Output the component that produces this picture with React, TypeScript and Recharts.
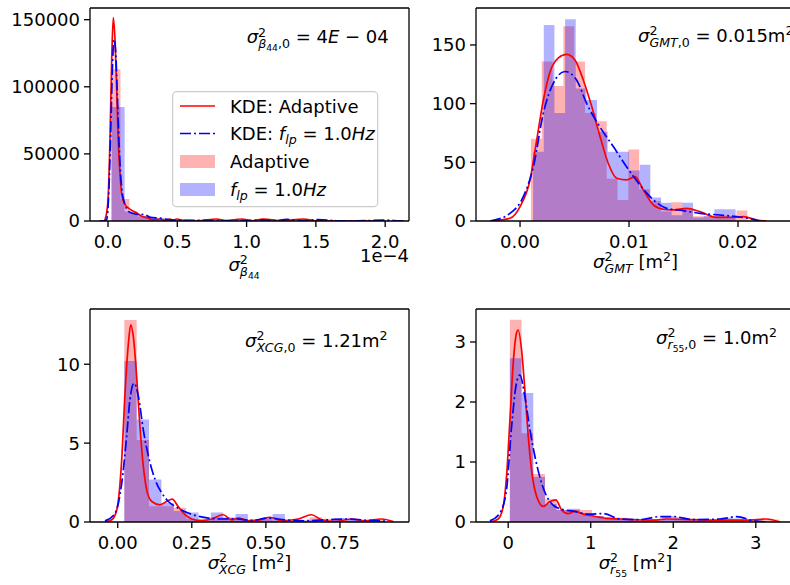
import React from 'react';
import { ComposedChart, Area, Line, XAxis, YAxis } from 'recharts';

const FONT = "'DejaVu Sans', sans-serif";
const FS = 18;
const RED = '#ff0000';
const BLUE = '#0000ff';

// ---------- Panel 1: sigma^2 beta44 (x in units of 1e-4) ----------
const betaTicksX = [0, 0.5, 1.0, 1.5, 2.0];
const betaTicksY = [0, 50000, 100000, 150000];
const betaRedBinStart = 0.025;
const betaRedBinWidth = 0.065;
const betaRedHist = [113000, 16400, 6000, 3000, 1500, 800, 1000, 1200, 600, 300, 200, 300, 600, 400, 300, 500, 300, 200, 300, 200, 100, 500];
const betaBlueBinStart = 0.025;
const betaBlueBinWidth = 0.095;
const betaBlueHist = [84850, 7000, 4000, 2000, 900, 600, 400, 300, 300, 200, 200, 300, 300, 400, 300, 500, 300, 200, 150, 150, 100, 100, 200];
const betaRedKdeX = [-0.06, -0.029, -0.022, -0.01, 0.002, 0.014, 0.027, 0.038, 0.051, 0.063, 0.074, 0.087, 0.099, 0.123, 0.146, 0.183, 0.207, 0.243, 0.28, 0.32, 0.375, 0.41, 0.447, 0.47, 0.496, 0.55, 0.65, 0.784, 0.85, 0.965, 1.04, 1.12, 1.25, 1.41, 1.5, 1.7, 2.0];
const betaRedKdeY = [0, 0, 1000, 6000, 19600, 59500, 121600, 151500, 134000, 96800, 59500, 34500, 19600, 12200, 9700, 7200, 6000, 3500, 2500, 1000, 1500, 500, 1500, 500, 1500, 300, 200, 1500, 200, 1500, 200, 1500, 200, 1500, 100, 50, 0];
const betaBlueKdeX = [-0.06, -0.03, -0.01, 0.007, 0.019, 0.031, 0.043, 0.055, 0.067, 0.079, 0.091, 0.103, 0.123, 0.146, 0.195, 0.267, 0.303, 0.387, 0.45, 0.55, 0.7, 0.85, 1.0, 1.12, 1.2, 1.29, 1.4, 1.52, 1.65, 1.8, 2.01, 2.1, 2.15];
const betaBlueKdeY = [0, 0, 1000, 24600, 64400, 111700, 135300, 126600, 94300, 59500, 34500, 20900, 12200, 7200, 5200, 4700, 2700, 2000, 800, 500, 400, 300, 300, 800, 300, 1200, 300, 1000, 200, 200, 600, 100, 0];

// ---------- Panel 2: sigma^2 GMT ----------
const gmtTicksX = [0, 0.01, 0.02];
const gmtTicksY = [0, 50, 100, 150];
const gmtRedBinStart = 0.001;
const gmtRedBinWidth = 0.000993;
const gmtRedHist = [70, 136, 115, 166, 136, 92, 85, 36, 18, 61, 27, 17, 8, 16, 10, 4, 4, 5, 4, 9];
const gmtBlueBinStart = 0.0012;
const gmtBlueBinWidth = 0.000978;
const gmtBlueHist = [59, 167, 92, 172, 113, 103, 76, 59, 59, 43, 48, 20, 15.6, 5, 15.6, 3, 4, 10, 10];
const gmtRedKdeX = [-0.00275, -0.00092, 0, 0.00092, 0.00153, 0.00214, 0.00275, 0.00352, 0.00428, 0.00505, 0.00581, 0.00658, 0.00734, 0.0081, 0.00887, 0.00979, 0.01055, 0.01131, 0.01223, 0.01315, 0.01406, 0.01529, 0.01651, 0.01804, 0.01957, 0.02049, 0.02171, 0.02263];
const gmtRedKdeY = [0, 2.3, 12.2, 35, 69, 103, 127, 139, 142, 137, 120, 97.5, 72, 49, 36.4, 35, 37.8, 26.5, 13.7, 10, 9.4, 10.8, 8, 3.1, 3.1, 3.7, 0.85, 0];
const gmtBlueKdeX = [-0.00275, -0.00092, 0.0003, 0.00122, 0.00214, 0.00306, 0.00413, 0.0052, 0.00612, 0.00734, 0.00856, 0.00979, 0.011, 0.01223, 0.01346, 0.01498, 0.01651, 0.01835, 0.01988, 0.0211, 0.022];
const gmtBlueKdeY = [0, 6.5, 20.7, 46, 92, 117.5, 127.4, 120, 100, 80, 63.4, 46, 30.7, 18, 10.8, 8.8, 6.5, 5.1, 3.7, 2, 0];

// ---------- Panel 3: sigma^2 XCG ----------
const xcgTicksX = [0, 0.25, 0.5, 0.75];
const xcgTicksY = [0, 5, 10];
const xcgRedBinStart = 0.0223;
const xcgRedBinWidth = 0.0417;
const xcgRedHist = [12.8, 5.2, 1.0, 1.0, 0.9, 0.2, 0.1, 0.3, 0.3, 0.15, 0.15, 0.2, 0.1, 0.05, 0.1, 0.3, 0.2, 0.05, 0.1, 0.1, 0.15];
const xcgBlueBinStart = 0.0223;
const xcgBlueBinWidth = 0.0417;
const xcgBlueHist = [10.2, 6.5, 2.7, 1.2, 0.7, 0.6, 0.2, 0.6, 0.2, 0.5, 0.15, 0.25, 0.5, 0.1, 0.1, 0.15, 0.05, 0.25, 0.15, 0.1, 0.05];
const xcgRedKdeX = [-0.043, -0.02, -0.003, 0.0135, 0.0246, 0.036, 0.0439, 0.053, 0.064, 0.075, 0.0866, 0.0978, 0.115, 0.1427, 0.165, 0.184, 0.204, 0.227, 0.25, 0.283, 0.317, 0.356, 0.385, 0.407, 0.441, 0.48, 0.514, 0.553, 0.609, 0.654, 0.688, 0.733, 0.79, 0.834, 0.891, 0.93];
const xcgRedKdeY = [0, 0.14, 0.78, 3.94, 8.16, 11.3, 12.5, 11.7, 9.2, 6.05, 3.5, 2.04, 1.3, 1.09, 1.3, 1.45, 0.98, 0.46, 0.19, 0.08, 0.19, 0.46, 0.14, 0.25, 0.08, 0.14, 0.3, 0.08, 0.19, 0.46, 0.14, 0.03, 0.19, 0.08, 0.19, 0.03];
const xcgBlueKdeX = [-0.043, -0.009, 0.0135, 0.03, 0.041, 0.055, 0.07, 0.0866, 0.104, 0.126, 0.149, 0.171, 0.204, 0.238, 0.272, 0.306, 0.351, 0.396, 0.452, 0.508, 0.564, 0.632, 0.711, 0.778, 0.846, 0.913];
const xcgBlueKdeY = [0.07, 0.55, 2.45, 5.4, 7.7, 8.8, 7.95, 5.8, 4.15, 2.7, 1.83, 1.3, 0.88, 0.57, 0.36, 0.25, 0.19, 0.2, 0.1, 0.25, 0.14, 0.08, 0.14, 0.19, 0.1, 0.05];

// ---------- Panel 4: sigma^2 r55 ----------
const r55TicksX = [0, 1, 2, 3];
const r55TicksY = [0, 1, 2, 3];
const r55RedBinStart = 0.02;
const r55RedBinWidth = 0.142;
const r55RedHist = [3.37, 1.48, 0.8, 0.38, 0.2, 0.2, 0.2, 0.1, 0.05, 0.07, 0.05, 0.03, 0.02, 0.03, 0.05, 0.04, 0.03, 0.03, 0.02, 0.02, 0.02, 0.03, 0.04];
const r55BlueBinStart = 0.02;
const r55BlueBinWidth = 0.142;
const r55BlueHist = [2.73, 2.15, 0.75, 0.3, 0.2, 0.22, 0.12, 0.1, 0.08, 0.05, 0.03, 0.02, 0.05, 0.1, 0.08, 0.05, 0.04, 0.03, 0.07, 0.06];
const r55RedKdeX = [-0.222, -0.121, -0.06, -0.02, 0.021, 0.061, 0.101, 0.121, 0.162, 0.202, 0.243, 0.283, 0.344, 0.425, 0.505, 0.578, 0.647, 0.727, 0.808, 0.889, 1.03, 1.193, 1.354, 1.515, 1.757, 1.92, 2.24, 2.566, 2.89, 3.13, 3.29];
const r55RedKdeY = [0, 0.05, 0.26, 0.76, 1.7, 2.65, 3.15, 3.2, 2.87, 2.2, 1.43, 0.87, 0.43, 0.26, 0.34, 0.37, 0.2, 0.14, 0.18, 0.14, 0.1, 0.06, 0.05, 0.04, 0.03, 0.05, 0.04, 0.03, 0.03, 0.05, 0];
const r55BlueKdeX = [-0.222, -0.1, -0.02, 0.041, 0.101, 0.141, 0.202, 0.263, 0.323, 0.404, 0.505, 0.626, 0.788, 0.99, 1.152, 1.354, 1.596, 1.838, 2.0, 2.24, 2.566, 2.77, 2.97, 3.13];
const r55BlueKdeY = [0.02, 0.15, 0.54, 1.59, 2.32, 2.45, 2.09, 1.54, 1.1, 0.65, 0.34, 0.22, 0.18, 0.13, 0.14, 0.05, 0.04, 0.09, 0.09, 0.04, 0.05, 0.09, 0.02, 0];

type Row = { x: number; y: number };
const histRows = (start: number, width: number, heights: number[]): Row[] => {
  const rows = heights.map((h, i) => ({ x: start + i * width, y: h }));
  rows.push({ x: start + heights.length * width, y: 0 });
  return rows;
};
const kdeRows = (xs: number[], ys: number[]): Row[] => xs.map((x, i) => ({ x, y: ys[i] }));

type PanelProps = {
  left: number;
  top: number;
  xDomain: [number, number];
  yDomain: [number, number];
  xTicks: number[];
  yTicks: number[];
  xFmt: (v: number) => string;
  redHist: Row[];
  blueHist: Row[];
  redKde: Row[];
  blueKde: Row[];
};

const axisLine = { stroke: '#000', strokeWidth: 1.3 };
const tickStyle = { fill: '#000', fontSize: FS, fontFamily: FONT };
const DASH = '11 3 2 3';

function Panel(p: PanelProps) {
  return (
    <div style={{ position: 'absolute', left: p.left, top: p.top }}>
      <ComposedChart width={419} height={291} margin={{ top: 7, right: 9, bottom: 0, left: 0 }}>
        <XAxis
          xAxisId="b"
          type="number"
          dataKey="x"
          domain={p.xDomain}
          ticks={p.xTicks}
          interval={0}
          tickFormatter={p.xFmt}
          allowDataOverflow
          height={70}
          tickSize={6}
          tickMargin={8}
          axisLine={axisLine}
          tickLine={axisLine}
          tick={tickStyle}
        />
        <XAxis
          xAxisId="t"
          orientation="top"
          type="number"
          dataKey="x"
          domain={p.xDomain}
          allowDataOverflow
          height={1}
          tick={false}
          tickLine={false}
          axisLine={axisLine}
        />
        <YAxis
          yAxisId="l"
          type="number"
          domain={p.yDomain}
          ticks={p.yTicks}
          interval={0}
          allowDataOverflow
          width={90}
          tickSize={6}
          tickMargin={4}
          axisLine={axisLine}
          tickLine={axisLine}
          tick={tickStyle}
        />
        <YAxis
          yAxisId="r"
          orientation="right"
          type="number"
          domain={p.yDomain}
          allowDataOverflow
          width={1}
          tick={false}
          tickLine={false}
          axisLine={axisLine}
        />
        <Area xAxisId="b" yAxisId="l" data={p.redHist} dataKey="y" type="stepAfter" fill={RED} fillOpacity={0.3} stroke="none" isAnimationActive={false} />
        <Line xAxisId="b" yAxisId="l" data={p.redKde} dataKey="y" type="monotone" stroke={RED} strokeWidth={1.7} dot={false} activeDot={false} isAnimationActive={false} />
        <Area xAxisId="t" yAxisId="r" data={p.blueHist} dataKey="y" type="stepAfter" fill={BLUE} fillOpacity={0.3} stroke="none" isAnimationActive={false} />
        <Line xAxisId="t" yAxisId="r" data={p.blueKde} dataKey="y" type="monotone" stroke={BLUE} strokeWidth={1.7} strokeDasharray={DASH} dot={false} activeDot={false} isAnimationActive={false} />
      </ComposedChart>
    </div>
  );
}

const S = 12.6; // script size
const SS = 9.2; // second-level script size
const SUP = -6.8;
const SUB = 5;
const TWO_W = 8;

function Overlay() {
  const t = { fontFamily: FONT, fontSize: FS, fill: '#000' } as const;
  return (
    <svg width={790} height={585} style={{ position: 'absolute', left: 0, top: 0, pointerEvents: 'none' }}>
      {/* annotations */}
      <text x={246.7} y={43.3} {...t}>
        <tspan fontStyle="italic">σ</tspan>
        <tspan fontSize={S} dy={SUP}>2</tspan>
        <tspan fontSize={S} dx={-TWO_W} dy={SUB - SUP} fontStyle="italic">β</tspan>
        <tspan fontSize={SS} dy={2.5}>44</tspan>
        <tspan fontSize={S} dy={-2.5}>,0</tspan>
        <tspan dy={-SUB}> = 4</tspan>
        <tspan fontStyle="italic">E</tspan>
        <tspan> − 04</tspan>
      </text>
      <text x={638} y={42} {...t}>
        <tspan fontStyle="italic">σ</tspan>
        <tspan fontSize={S} dy={SUP}>2</tspan>
        <tspan fontSize={S} dx={-TWO_W} dy={SUB - SUP} fontStyle="italic">GMT</tspan>
        <tspan fontSize={S}>,0</tspan>
        <tspan dy={-SUB}> = 0.015m</tspan>
        <tspan fontSize={S} dy={SUP}>2</tspan>
      </text>
      <text x={245} y={346.5} {...t}>
        <tspan fontStyle="italic">σ</tspan>
        <tspan fontSize={S} dy={SUP}>2</tspan>
        <tspan fontSize={S} dx={-TWO_W} dy={SUB - SUP} fontStyle="italic">XCG</tspan>
        <tspan fontSize={S}>,0</tspan>
        <tspan dy={-SUB}> = 1.21m</tspan>
        <tspan fontSize={S} dy={SUP}>2</tspan>
      </text>
      <text x={656} y={344} {...t}>
        <tspan fontStyle="italic">σ</tspan>
        <tspan fontSize={S} dy={SUP}>2</tspan>
        <tspan fontSize={S} dx={-TWO_W} dy={SUB - SUP} fontStyle="italic">r</tspan>
        <tspan fontSize={SS} dy={2.5}>55</tspan>
        <tspan fontSize={S} dy={-2.5}>,0</tspan>
        <tspan dy={-SUB}> = 1.0m</tspan>
        <tspan fontSize={S} dy={SUP}>2</tspan>
      </text>

      {/* x-axis labels */}
      <text x={244} y={271} textAnchor="middle" {...t}>
        <tspan fontStyle="italic">σ</tspan>
        <tspan fontSize={S} dy={SUP}>2</tspan>
        <tspan fontSize={S} dx={-TWO_W} dy={SUB - SUP} fontStyle="italic">β</tspan>
        <tspan fontSize={SS} dy={2.5}>44</tspan>
      </text>
      <text x={409} y={262} textAnchor="end" {...t}>1e−4</text>
      <text x={635.5} y={268} textAnchor="middle" {...t}>
        <tspan fontStyle="italic">σ</tspan>
        <tspan fontSize={S} dy={SUP}>2</tspan>
        <tspan fontSize={S} dx={-TWO_W} dy={SUB - SUP} fontStyle="italic">GMT</tspan>
        <tspan dy={-SUB}> [m</tspan>
        <tspan fontSize={S} dy={SUP}>2</tspan>
        <tspan dy={-SUP}>]</tspan>
      </text>
      <text x={249.5} y={569} textAnchor="middle" {...t}>
        <tspan fontStyle="italic">σ</tspan>
        <tspan fontSize={S} dy={SUP}>2</tspan>
        <tspan fontSize={S} dx={-TWO_W} dy={SUB - SUP} fontStyle="italic">XCG</tspan>
        <tspan dy={-SUB}> [m</tspan>
        <tspan fontSize={S} dy={SUP}>2</tspan>
        <tspan dy={-SUP}>]</tspan>
      </text>
      <text x={635.5} y={569} textAnchor="middle" {...t}>
        <tspan fontStyle="italic">σ</tspan>
        <tspan fontSize={S} dy={SUP}>2</tspan>
        <tspan fontSize={S} dx={-TWO_W} dy={SUB - SUP} fontStyle="italic">r</tspan>
        <tspan fontSize={SS} dy={2.5}>55</tspan>
        <tspan dy={-2.5 - SUB}> [m</tspan>
        <tspan fontSize={S} dy={SUP}>2</tspan>
        <tspan dy={-SUP}>]</tspan>
      </text>

      {/* legend */}
      <rect x={172.7} y={91.7} width={205} height={115} rx={4} ry={4} fill="#fff" fillOpacity={0.8} stroke="#cccccc" strokeWidth={1.2} />
      <line x1={180} x2={215} y1={106} y2={106} stroke={RED} strokeWidth={1.7} />
      <line x1={180} x2={215} y1={133.5} y2={133.5} stroke={BLUE} strokeWidth={1.7} strokeDasharray={DASH} />
      <rect x={180} y={155} width={35} height={13} fill={RED} fillOpacity={0.3} />
      <rect x={180} y={183} width={35} height={13} fill={BLUE} fillOpacity={0.3} />
      <text x={230} y={112.5} {...t}>KDE: Adaptive</text>
      <text x={230} y={140} {...t}>
        <tspan>KDE: </tspan>
        <tspan fontStyle="italic">f</tspan>
        <tspan fontSize={S} dy={4} fontStyle="italic">lp</tspan>
        <tspan dy={-4}> = 1.0</tspan>
        <tspan fontStyle="italic">Hz</tspan>
      </text>
      <text x={230} y={168} {...t}>Adaptive</text>
      <text x={230} y={196} {...t}>
        <tspan fontStyle="italic">f</tspan>
        <tspan fontSize={S} dy={4} fontStyle="italic">lp</tspan>
        <tspan dy={-4}> = 1.0</tspan>
        <tspan fontStyle="italic">Hz</tspan>
      </text>
    </svg>
  );
}

export default function App() {
  return (
    <div style={{ position: 'absolute', left: 0, top: 0, width: 790, height: 585, overflow: 'hidden', background: '#fff' }}>
      <Panel
        left={0}
        top={0}
        xDomain={[-0.13, 2.172]}
        yDomain={[0, 158700]}
        xTicks={betaTicksX}
        yTicks={betaTicksY}
        xFmt={(v) => v.toFixed(1)}
        redHist={histRows(betaRedBinStart, betaRedBinWidth, betaRedHist)}
        blueHist={histRows(betaBlueBinStart, betaBlueBinWidth, betaBlueHist)}
        redKde={kdeRows(betaRedKdeX, betaRedKdeY)}
        blueKde={kdeRows(betaBlueKdeX, betaBlueKdeY)}
      />
      <Panel
        left={386}
        top={0}
        xDomain={[-0.00404, 0.02523]}
        yDomain={[0, 181.5]}
        xTicks={gmtTicksX}
        yTicks={gmtTicksY}
        xFmt={(v) => v.toFixed(2)}
        redHist={histRows(gmtRedBinStart, gmtRedBinWidth, gmtRedHist)}
        blueHist={histRows(gmtBlueBinStart, gmtBlueBinWidth, gmtBlueHist)}
        redKde={kdeRows(gmtRedKdeX, gmtRedKdeY)}
        blueKde={kdeRows(gmtBlueKdeX, gmtBlueKdeY)}
      />
      <Panel
        left={0}
        top={301}
        xDomain={[-0.0935, 0.983]}
        yDomain={[0, 13.5]}
        xTicks={xcgTicksX}
        yTicks={xcgTicksY}
        xFmt={(v) => v.toFixed(2)}
        redHist={histRows(xcgRedBinStart, xcgRedBinWidth, xcgRedHist)}
        blueHist={histRows(xcgBlueBinStart, xcgBlueBinWidth, xcgBlueHist)}
        redKde={kdeRows(xcgRedKdeX, xcgRedKdeY)}
        blueKde={kdeRows(xcgBlueKdeX, xcgBlueKdeY)}
      />
      <Panel
        left={386}
        top={301}
        xDomain={[-0.39, 3.475]}
        yDomain={[0, 3.55]}
        xTicks={r55TicksX}
        yTicks={r55TicksY}
        xFmt={(v) => String(v)}
        redHist={histRows(r55RedBinStart, r55RedBinWidth, r55RedHist)}
        blueHist={histRows(r55BlueBinStart, r55BlueBinWidth, r55BlueHist)}
        redKde={kdeRows(r55RedKdeX, r55RedKdeY)}
        blueKde={kdeRows(r55BlueKdeX, r55BlueKdeY)}
      />
      <Overlay />
    </div>
  );
}
